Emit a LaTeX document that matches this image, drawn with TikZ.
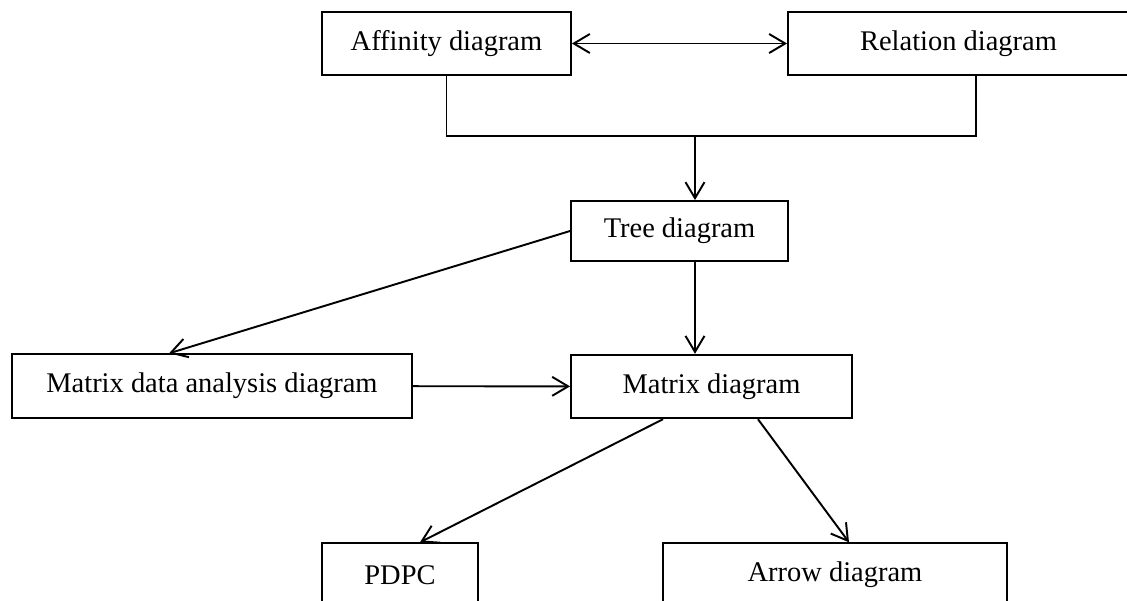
\documentclass[tikz,border=0pt]{standalone}
\usepackage{fontspec}
\setmainfont{Liberation Serif}
\usetikzlibrary{arrows.meta}
\usetikzlibrary{calc}

\begin{document}
\begin{tikzpicture}[x=0.02cm,y=-0.02cm,line width=1.1pt,>={Straight Barb[length=3.2mm,width=3.8mm]},
		box/.style={draw,rectangle,inner sep=0pt,minimum height=1.27cm,font=\fontsize{16.2}{19}\selectfont}]
		\useasboundingbox (0,0) rectangle (1127,600);
		\fill[white] (0,0) rectangle (1127,600);
		\clip (0,0) rectangle (1127,600);
		% boxes
		\node[box,minimum width=4.98cm] (aff) at (446.5,43.5) {Affinity diagram};
		\node[box,minimum width=6.82cm] (rel) at (958.5,43.5) {Relation diagram};
		\node[box,minimum width=4.34cm,minimum height=1.2cm] (tree) at (679.5,231) {Tree diagram};
		\node[box,minimum width=8.0cm] (mda) at (212,386) {Matrix data analysis diagram};
		\node[box,minimum width=5.62cm] (mat) at (711.5,386.5) {Matrix diagram};
		\node[box,minimum width=3.12cm] (pdpc) at (400,575) {PDPC};
		\node[box,minimum width=6.88cm] (arr) at (835,575) {Arrow diagram};
		\coordinate (join) at (695,136);
		\coordinate (jr) at (976,136);
		% connectors
		\draw[<->] (aff) -- (rel);
		\draw (aff.south) |- (jr) -- (jr |- rel.south);
		\draw[->] (join) -- (join |- tree.north);
		\draw[->] (join |- tree.south) -- (join |- mat.north);
		\draw[->] (tree.west) -- ($(mda.north west)+(158,0)$);
		\draw[->] (mda) -- (mat);
		\draw[->] ($(mat.south)+(-48.5,0)$) -- ($(pdpc.north)+(20,0)$);
		\draw[->] ($(mat.south)+(46.5,0)$) -- ($(arr.north)+(14,0)$);
\end{tikzpicture}
\end{document}
